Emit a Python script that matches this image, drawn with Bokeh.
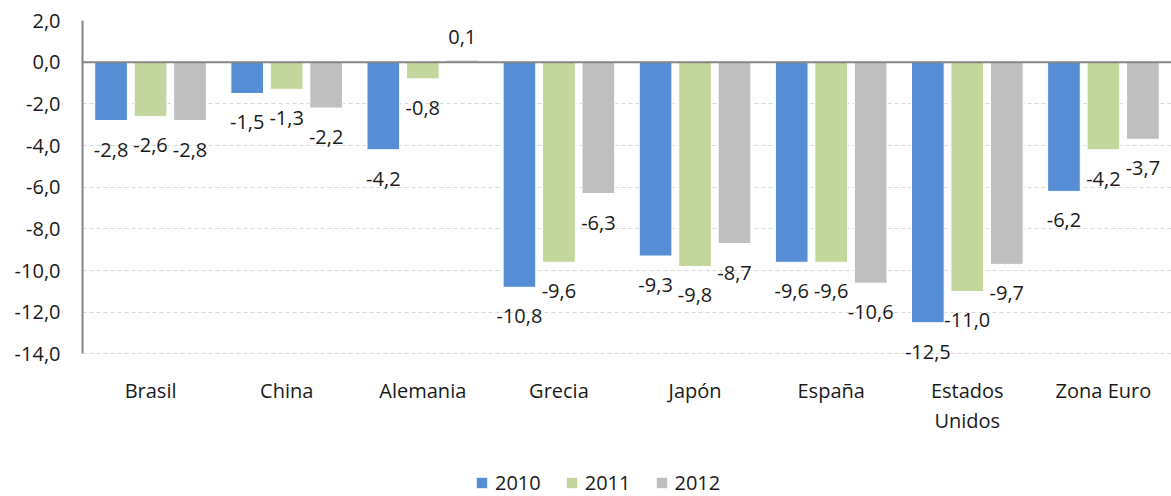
from bokeh.plotting import figure
from bokeh.models import (ColumnDataSource, FactorRange, Range1d, FixedTicker,
                          CustomJSTickFormatter, Span, LabelSet, Legend, LegendItem,
                          CategoricalAxis)
from bokeh.layouts import column
from bokeh.transform import dodge
from bokeh.core.properties import value
from bokeh.embed import file_html
from bokeh.resources import INLINE

categories = ["Brasil", "China", "Alemania", "Grecia", "Japón", "España",
              "Estados Unidos", "Zona Euro"]
years = ["2010", "2011", "2012"]
v2010 = [-2.8, -1.5, -4.2, -10.8, -9.3, -9.6, -12.5, -6.2]
v2011 = [-2.6, -1.3, -0.8, -9.6, -9.8, -9.6, -11.0, -4.2]
v2012 = [-2.8, -2.2, 0.1, -6.3, -8.7, -10.6, -9.7, -3.7]
y_ticks = [2, 0, -2, -4, -6, -8, -10, -12, -14]

colors = ["#558ED5", "#C3D69B", "#BFBFBF"]
FONT = "Open Sans"
FS = "20px"
TXT = "#1a1a1a"

series = [v2010, v2011, v2012]
offsets = [-0.29, 0.0, 0.29]
bar_w = 0.24

W = 1171
H1 = 452
H2 = 44

p = figure(x_range=FactorRange(*categories), y_range=Range1d(-14.6, 2),
           width=W, height=H1, output_backend="svg", toolbar_location=None,
           min_border_left=82, min_border_right=0, min_border_top=20,
           min_border_bottom=86)
p.outline_line_color = None
p.background_fill_color = "white"
p.border_fill_color = "white"

# grid
p.xgrid.grid_line_color = None
p.ygrid.grid_line_color = "#D9D9D9"
p.ygrid.grid_line_dash = "4 3"
p.ygrid.grid_line_width = 1
p.ygrid.ticker = FixedTicker(ticks=y_ticks)

# y axis
p.yaxis.ticker = FixedTicker(ticks=y_ticks)
p.yaxis.bounds = (min(y_ticks), max(y_ticks))
p.yaxis.formatter = CustomJSTickFormatter(code="return tick.toFixed(1).replace('.', ',');")
p.yaxis.axis_line_color = "#868686"
p.yaxis.axis_line_width = 2
p.yaxis.major_tick_out = 0
p.yaxis.major_tick_in = 0
p.yaxis.minor_tick_out = 0
p.yaxis.minor_tick_in = 0
p.yaxis.major_label_standoff = 22
p.yaxis.major_label_text_font = FONT
p.yaxis.major_label_text_font_size = FS
p.yaxis.major_label_text_color = TXT

# x axis: category labels, wrapped over two lines where Excel wrapped them
ax1 = p.xaxis[0]
ax1.axis_line_color = None
ax1.major_tick_out = 0
ax1.major_tick_in = 0
ax1.major_label_standoff = 10
ax1.major_label_text_font = FONT
ax1.major_label_text_font_size = FS
ax1.major_label_text_color = TXT
ax1.formatter = CustomJSTickFormatter(
    code="var s = String(tick); var i = s.indexOf(' '); "
         "return (s === 'Estados Unidos') ? s.slice(0, i) : s;")

ax2 = CategoricalAxis(axis_line_color=None, major_tick_out=0, major_tick_in=0,
                      major_label_standoff=0, major_label_text_font=FONT,
                      major_label_text_font_size=FS, major_label_text_color=TXT)
ax2.formatter = CustomJSTickFormatter(
    code="var s = String(tick); var i = s.indexOf(' '); "
         "return (s === 'Estados Unidos') ? s.slice(i + 1) : '';")
p.add_layout(ax2, "below")

for yr, vals, off, col in zip(years, series, offsets, colors):
    src = ColumnDataSource(dict(cat=categories, val=vals))
    p.vbar(x=dodge("cat", off, range=p.x_range), top="val", bottom=0,
           width=bar_w, source=src, fill_color=col, line_color="white",
           line_width=1)
    nsrc = ColumnDataSource(dict(
        cat=[c for c, v in zip(categories, vals) if v < 0],
        val=[v for v in vals if v < 0],
        lab=[f"{v:.1f}".replace(".", ",") for v in vals if v < 0]))
    psrc = ColumnDataSource(dict(
        cat=[c for c, v in zip(categories, vals) if v >= 0],
        val=[v for v in vals if v >= 0],
        lab=[f"{v:.1f}".replace(".", ",") for v in vals if v >= 0]))
    for s, yo in ((nsrc, -29), (psrc, 23)):
        ls = LabelSet(x=dodge("cat", off, range=p.x_range), y="val", text="lab",
                      source=s, y_offset=yo, text_align="center",
                      text_baseline="middle", text_font=value(FONT),
                      text_font_size=value(FS), text_color=TXT)
        p.add_layout(ls)

p.add_layout(Span(location=0, dimension="width", line_color="#868686",
                  line_width=2))

# legend strip (frame aligned with the chart frame by the column layout)
lg = figure(x_range=Range1d(0, 1), y_range=Range1d(0, 1), width=W, height=H2,
            output_backend="svg", toolbar_location=None,
            min_border_left=0, min_border_right=0, min_border_top=0,
            min_border_bottom=0)
lg.outline_line_color = None
lg.xaxis.visible = False
lg.yaxis.visible = False
lg.xgrid.visible = False
lg.ygrid.visible = False
items = []
for yr, col in zip(years, colors):
    # zero-size swatch renderer, only used for the legend key
    r = lg.vbar(x=[0.5], top=[0], bottom=[0], width=0, fill_color=col,
                line_color=None)
    items.append(LegendItem(label=yr, renderers=[r]))
legend = Legend(items=items, orientation="horizontal", location=(393, 0),
                glyph_width=13, glyph_height=13, label_standoff=7, spacing=24,
                label_text_font=FONT, label_text_font_size=FS,
                label_text_color=TXT, border_line_color=None,
                background_fill_alpha=0, padding=0, margin=0)
lg.add_layout(legend)

layout = column(p, lg, spacing=0)
open("out.html", "w").write(file_html(layout, INLINE))
